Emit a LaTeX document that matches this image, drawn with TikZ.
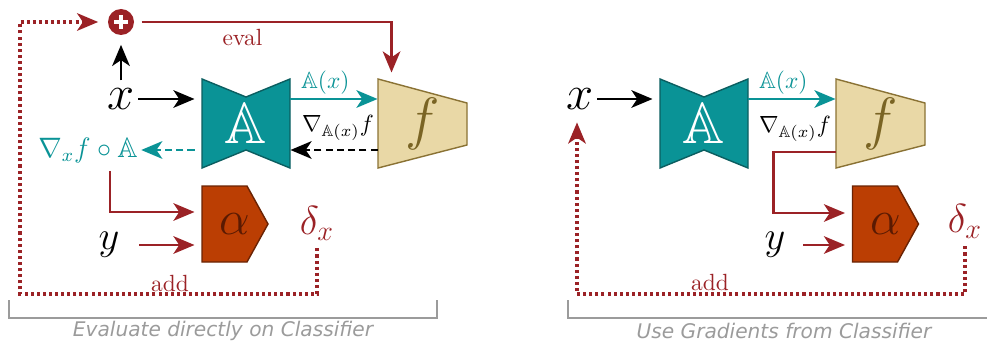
\documentclass[tikz,border=0pt]{standalone}
\usepackage{amsmath}
\usepackage{amssymb}
\usepackage{fontspec}
\newfontfamily\capfont{DejaVu Sans}
\usetikzlibrary{arrows.meta,calc}
\definecolor{rust}{HTML}{9B2226}
\definecolor{aug}{HTML}{0A9396}
\definecolor{augedge}{HTML}{0B5E60}
\definecolor{sand}{HTML}{E9D8A6}
\definecolor{sandedge}{HTML}{8A7234}
\definecolor{sandink}{HTML}{7A6424}
\definecolor{atk}{HTML}{BB3E03}
\definecolor{atkedge}{HTML}{6A2304}
\definecolor{atkink}{HTML}{5A1A02}
\definecolor{capgray}{HTML}{9B9B9B}

\begin{document}
\begin{tikzpicture}[x=0.015cm,y=-0.015cm,font=\normalsize,
  arr/.style={line width=1.2pt,-{Stealth[length=9pt,width=7.5pt,inset=2.5pt]}},
  gradarr/.style={arr,dash pattern=on 3pt off 1.8pt},
  addline/.style={rust,line width=1.3pt,dash pattern=on 1.3pt off 1.3pt,-{Stealth[length=9pt,width=7.5pt,inset=2.5pt]}},
  blk/.style={inner sep=0,minimum width=1.32cm,minimum height=1.335cm},
  sym/.style={font=\huge}]
\useasboundingbox (0,0) rectangle (987,344);
\foreach \dx/\n in {0/L,458/R}{
  \begin{scope}[shift={(\dx,0)}]
    \filldraw[fill=aug,draw=augedge,line width=0.6pt] (202,79) -- (246,97) -- (290,79) -- (290,168) -- (246,150) -- (202,168) -- cycle;
    \node[blk,text=white,font=\Huge] (A\n) at (246,123.5) {$\mathbb{A}$};
    \filldraw[fill=sand,draw=sandedge,line width=0.6pt] (378,79) -- (467,103) -- (467,145) -- (378,168) -- cycle;
    \node[blk,minimum width=1.335cm,text=sandink,font=\Huge] (f\n) at (422.5,123.5) {$f$};
  \end{scope}
}
\foreach \ax/\n in {235/L,885.5/R}{
  \begin{scope}[shift={(\ax,224)}]
    \filldraw[fill=atk,draw=atkedge,line width=0.6pt] (-33,-38) -- (12,-38) -- (33,0) -- (12,38) -- (-33,38) -- cycle;
    \node[inner sep=0,minimum width=0.99cm,minimum height=1.14cm,text=atkink,font=\huge] (alpha\n) at (0,0) {$\alpha$};
  \end{scope}
}

\node[circle,fill=rust,inner sep=0,minimum size=0.39cm] (plus) at (121,22) {};
\draw[white,line width=1.4pt] ($(plus)+(-7,0)$) -- ($(plus)+(7,0)$) ($(plus)+(0,-7)$) -- ($(plus)+(0,7)$);
\node[sym] (xL) at (121,99) {$x$};
\node[text=aug,font=\large] (gradL) at (88,150) {$\nabla_{x} f\circ\mathbb{A}$};
\node[sym,font=\LARGE] (yL) at (109,245) {$y$};
\node[sym,font=\LARGE,text=rust] (deltaL) at (317,223) {$\delta_x$};
\node (gfL) at (338,128) {$\nabla_{\mathbb{A}(x)}f$};
\node[text=rust] (addL) at (170,283) {add};
\coordinate (loopL) at (20,294);

\draw[arr,shorten >=4pt] (xL.north) -- (plus.south);
\draw[arr,shorten <=-2pt,shorten >=3pt] (xL.east) -- (xL -| AL.west);
\draw[arr,aug] (xL -| AL.east) -- node[pos=0.4,above=-2pt] (axL) {$\mathbb{A}(x)$} (xL -| fL.west);
\draw[arr,rust,shorten <=3pt] (plus.east) -| node[pos=0.21,below=-1pt] (evalL) {eval} ($(fL.north west)+(14,-6)$);
\draw[gradarr] (gradL -| fL.west) -- (gradL -| AL.east);
\draw[gradarr,aug,shorten <=3pt,shorten >=-2pt] (gradL -| AL.west) -- (gradL.east);
\draw[arr,rust,shorten >=3pt] ($(gradL.south)+(22,0)$) |- ($(alphaL.west)+(0,-12)$);
\draw[arr,rust,shorten <=5pt,shorten >=3pt] (yL.east) -- (yL -| alphaL.west);
\draw[addline,shorten >=4pt] (deltaL.south) |- (loopL) |- (plus.west);

\node[sym] (xR) at (580,99) {$x$};
\node[sym,font=\LARGE] (yR) at (775,245) {$y$};
\node[sym,font=\LARGE,text=rust] (deltaR) at (965,221) {$\delta_x$};
\node (gfR) at (795,129) {$\nabla_{\mathbb{A}(x)}f$};
\node[text=rust] (addR) at (710,282) {add};
\coordinate (loopR) at (577,294);

\draw[arr,shorten <=-2pt,shorten >=3pt] (xR.east) -- (xR -| AR.west);
\draw[arr,aug] (xR -| AR.east) -- node[pos=0.4,above=-2pt] (axR) {$\mathbb{A}(x)$} (xR -| fR.west);
\draw[arr,rust,shorten >=3pt] ($(fR.west)+(0,28.5)$) -- ++(-62,0) |- ($(alphaR.west)+(0,-11)$);
\draw[arr,rust,shorten <=4pt,shorten >=3pt] (yR.east) -- (yR -| alphaR.west);
\draw[addline,shorten >=2pt] (deltaR.south) |- (loopR) -- (loopR |- xR.south);

\foreach \l/\r/\t/\n in {9/437/Evaluate directly on Classifier/L,568/1000/Use Gradients from Classifier/R}{
  \draw[capgray,line width=0.9pt] (\l,300) -- (\l,318) -- (\r,318) -- (\r,300);
  \node[text=capgray,font=\capfont\itshape\fontsize{8.6}{10}\selectfont] (cap\n) at ({(\l+\r)/2},331) {\t};
}
\end{tikzpicture}
\end{document}
